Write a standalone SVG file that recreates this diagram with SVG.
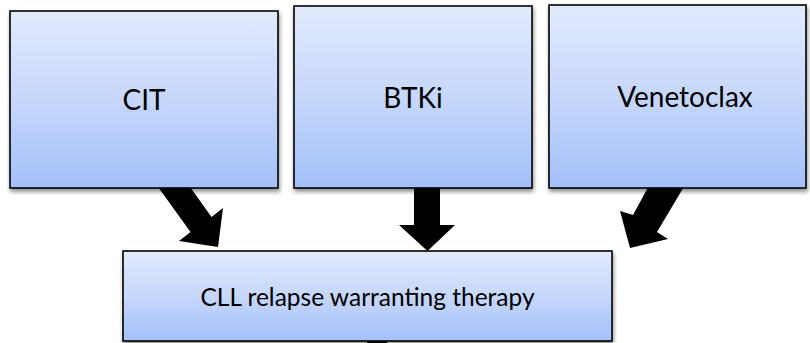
<svg xmlns="http://www.w3.org/2000/svg" width="810" height="343" viewBox="0 0 810 343">
<defs>
<linearGradient id="g" x1="0" y1="0" x2="0" y2="1">
<stop offset="0" stop-color="#e2eafd"/>
<stop offset="0.5" stop-color="#c6d7fb"/>
<stop offset="1" stop-color="#a3c0f9"/>
</linearGradient>
<filter id="sh" x="-5%" y="-5%" width="110%" height="115%">
<feGaussianBlur in="SourceAlpha" stdDeviation="2"/>
<feOffset dx="1" dy="3" result="b"/>
<feComponentTransfer><feFuncA type="linear" slope="0.45"/></feComponentTransfer>
<feMerge><feMergeNode/><feMergeNode in="SourceGraphic"/></feMerge>
</filter>
<style>
.box{fill:url(#g);stroke:#000;stroke-width:1.6;filter:url(#sh)}
.lbl{font-family:Lato,"Open Sans",sans-serif;font-size:28px;fill:#000;text-anchor:middle}
.sm{font-size:24.5px}
.arr{fill:#000}
</style>
</defs>
<rect width="810" height="343" fill="#fff"/>
<g id="connectors">
<polygon class="arr" points="153,180 185,180 211.5,217 223,208 218,247 179,241 190.5,232"/>
<polygon class="arr" points="414,180 440,180 440,225 455,225 427.5,251 399,225 414,225"/>
<polygon class="arr" points="652,180 688,180 657,232 668,239 630,248 620,211 633,215"/>
<rect class="arr" x="367" y="340" width="20" height="3"/>
</g>
<g id="cit">
<rect class="box" x="10" y="11" width="268" height="177"/>
<text class="lbl" x="144" y="110">CIT</text>
</g>
<g id="btki">
<rect class="box" x="294" y="6" width="238" height="182"/>
<text class="lbl" x="413" y="108">BTKi</text>
</g>
<g id="venetoclax">
<rect class="box" x="549" y="5" width="257" height="183"/>
<text class="lbl" x="685" y="107">Venetoclax</text>
</g>
<g id="cll">
<rect class="box" x="123" y="251" width="489" height="90"/>
<text class="lbl sm" x="367.5" y="306">CLL relapse warranting therapy</text>
</g>
</svg>
